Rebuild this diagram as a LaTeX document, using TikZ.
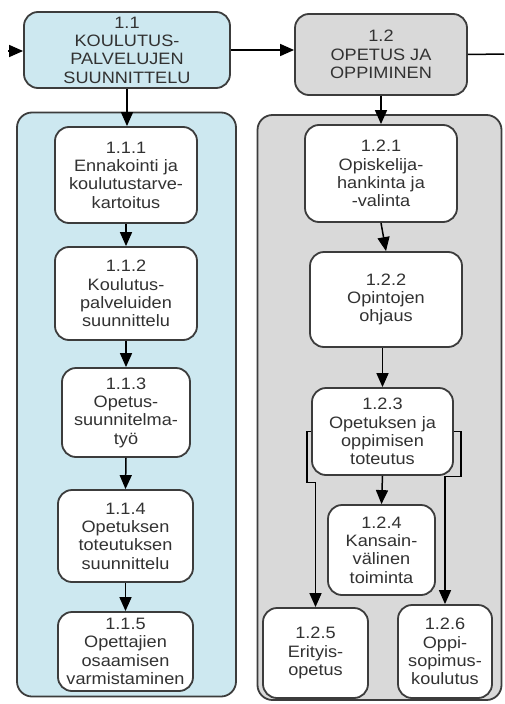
\documentclass[tikz,border=0pt]{standalone}
\usepackage{fontspec}
\setmainfont{Liberation Sans}[FakeStretch=1.1]
\usetikzlibrary{arrows.meta}
\definecolor{procblue}{RGB}{205,232,240}
\definecolor{procgray}{RGB}{217,217,217}
\definecolor{edge}{RGB}{60,60,60}
\definecolor{ink}{RGB}{50,50,50}
\tikzset{
  box/.style={draw=edge, line width=1.8pt, rounded corners=14pt, align=center,
    inner sep=0pt, text=ink, font=\fontsize{16.5}{18.3}\selectfont},
  mainbox/.style={box},
  subbox/.style={box, fill=white},
  frame/.style={draw=edge, line width=1.8pt, rounded corners=15pt},
  arr/.style={draw=black, line width=1.5pt, -{Triangle[length=14pt,width=12pt]}},
  plain/.style={draw=black, line width=1.5pt}
}
\begin{document}
\begin{tikzpicture}[x=1pt, y=-1pt]
\useasboundingbox (0,0) rectangle (504,704);
\fill[white] (0,0) rectangle (504,704);

% group frames
\node[frame, fill=procblue, minimum width=219pt, minimum height=584pt] (g1) at (126.5,404.5) {};
\node[frame, fill=procgray, minimum width=244pt, minimum height=585pt] (g2) at (379.5,407.5) {};

% top-level processes
\node[mainbox, fill=procblue, minimum width=206pt, minimum height=76pt] (p11) at (127,50)
  {1.1\\KOULUTUS-\\PALVELUJEN\\SUUNNITTELU};
\node[mainbox, fill=procgray, minimum width=172pt, minimum height=81pt] (p12) at (381,54.5)
  {1.2\\OPETUS JA\\OPPIMINEN};

% sub-processes of 1.1
\node[subbox, minimum width=142pt, minimum height=96pt] (q111) at (126,175)
  {1.1.1\\Ennakointi ja\\koulutustarve-\\kartoitus};
\node[subbox, minimum width=142pt, minimum height=93pt] (q112) at (126,293.5)
  {1.1.2\\Koulutus-\\palveluiden\\suunnittelu};
\node[subbox, minimum width=128pt, minimum height=89pt] (q113) at (126,412.5)
  {1.1.3\\Opetus-\\suunnitelma-\\työ};
\node[subbox, minimum width=135pt, minimum height=92pt] (q114) at (125.5,536)
  {1.1.4\\Opetuksen\\toteutuksen\\suunnittelu};
\node[subbox, minimum width=135pt, minimum height=79pt] (q115) at (125.5,651.5)
  {1.1.5\\Opettajien\\osaamisen\\varmistaminen};

% sub-processes of 1.2
\node[subbox, minimum width=152pt, minimum height=97pt] (q121) at (381,173.5)
  {1.2.1\\Opiskelija-\\hankinta ja\\-valinta};
\node[subbox, minimum width=152pt, minimum height=95pt] (q122) at (386,299.5)
  {1.2.2\\Opintojen\\ohjaus};
\node[subbox, minimum width=141pt, minimum height=87pt] (q123) at (382.5,431.5)
  {1.2.3\\Opetuksen ja\\oppimisen\\toteutus};
\node[subbox, minimum width=107pt, minimum height=90pt] (q124) at (381.5,550)
  {1.2.4\\Kansain-\\välinen\\toiminta};
\node[subbox, minimum width=105pt, minimum height=90pt] (q125) at (315.5,653)
  {1.2.5\\Erityis-\\opetus};
\node[subbox, minimum width=94pt, minimum height=93pt] (q126) at (445,651.5)
  {1.2.6\\Oppi-\\sopimus-\\koulutus};

% flow between top-level processes
\coordinate (inflow) at (8,51);
\coordinate (outflow) at (504,54);
\draw[arr] (inflow) -- (p11.west |- inflow);
\draw[arr] (p11.east) -- (p11.east -| p12.west);
\draw[plain] (p12.east) -- (outflow);

% decomposition arrows
\draw[arr] (p11.south) -- (p11.south |- q111.north);
\draw[arr] (p12.south) -- (q121.north);

% flow inside 1.1
\draw[arr] (q111.south) -- (q112.north);
\draw[arr] (q112.south) -- (q113.north);
\draw[arr] (q113.south) -- (q114.north);
\draw[arr] (q114.south) -- (q115.north);

% flow inside 1.2
\draw[arr] (q121.south) -- (q122.north);
\draw[arr] (q122.south -| q123.north) -- (q123.north);
\draw[arr] (q123.south) -- (q124.north);
\draw[arr] (q123.west) -| ++(-4,51) -| (q125.north);
\draw[arr] (q123.east) -| ++(7,45) -| (q126.north);
\end{tikzpicture}
\end{document}
